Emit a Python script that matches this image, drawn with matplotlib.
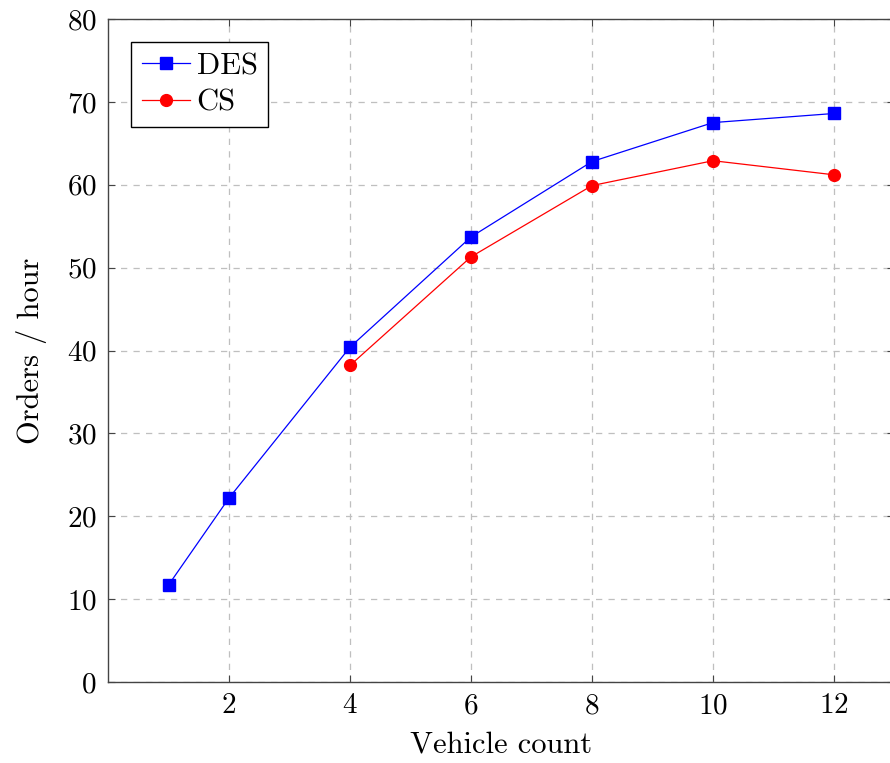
import numpy as np
import matplotlib
matplotlib.use("Agg")
import matplotlib.pyplot as plt

# Values
des_x = [1, 2, 4, 6, 8, 10, 12]
des_y = [11.7, 22.2, 40.4, 53.7, 62.8, 67.5, 68.6]
cs_x = [4, 6, 8, 10, 12]
cs_y = [38.2, 51.3, 59.9, 62.9, 61.2]
x_ticks = [2, 4, 6, 8, 10, 12]
y_ticks = [0, 10, 20, 30, 40, 50, 60, 70, 80]

plt.rcParams['font.family'] = 'serif'
plt.rcParams['font.serif'] = ['cmr10']
plt.rcParams['mathtext.fontset'] = 'cm'
plt.rcParams['axes.formatter.use_mathtext'] = True

fig = plt.figure(figsize=(8.9, 7.63), dpi=100)
ax = fig.add_axes([108 / 890, 81 / 763, 786.5 / 890, 663 / 763])

ax.plot(des_x, des_y, color='blue', marker='s', markersize=8, lw=0.9, label='DES')
ax.plot(cs_x, cs_y, color='red', marker='o', markersize=8.5, lw=0.9, label='CS')

ax.set_xlim(0, 13)
ax.set_ylim(0, 80)
ax.set_xticks(x_ticks)
ax.set_yticks(y_ticks)
ax.grid(True, color='#bfbfbf', linestyle=(0, (5, 5)), linewidth=0.9)
ax.tick_params(direction='in', length=5, width=0.8, labelsize=21,
               top=True, right=True, color='#444444', pad=8)
for s in ax.spines.values():
    s.set_color('#444444')
    s.set_linewidth(1.0)

ax.set_xlabel('Vehicle count', fontsize=22, labelpad=8)
ax.set_ylabel('Orders / hour', fontsize=22, labelpad=14)

leg = ax.legend(loc='upper left', fontsize=22, fancybox=False, framealpha=1,
                edgecolor='black', borderaxespad=0.75, handlelength=1.6,
                borderpad=0.35, labelspacing=0.3, handletextpad=0.2)
leg.get_frame().set_linewidth(1.0)

fig.savefig('out.png', dpi=100)
